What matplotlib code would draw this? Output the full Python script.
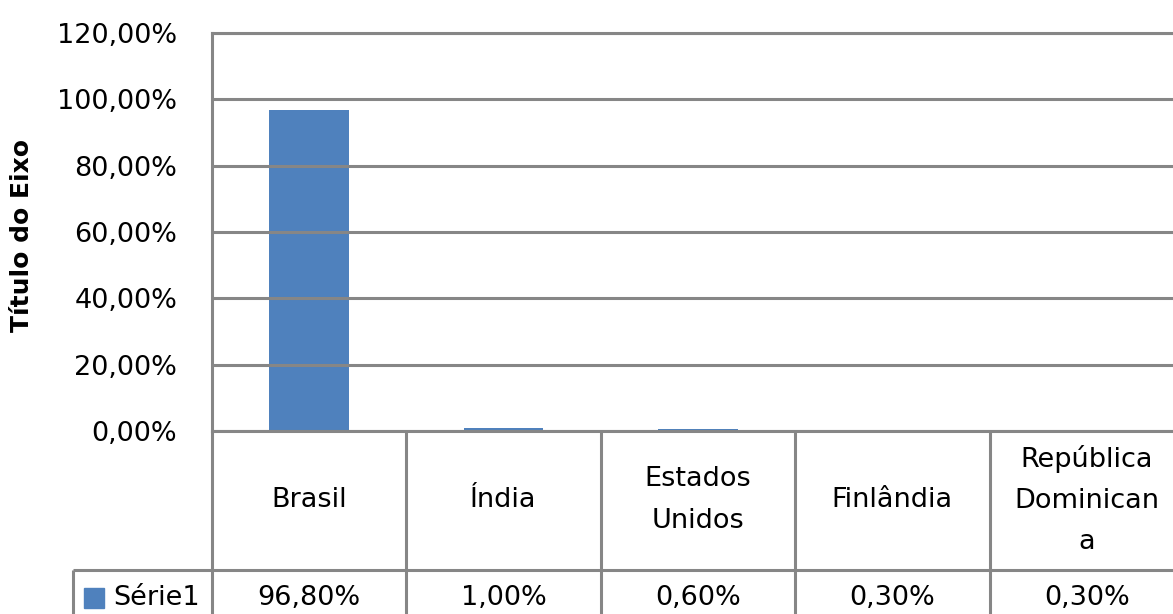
import matplotlib
matplotlib.use('Agg')
import matplotlib.pyplot as plt
import matplotlib.transforms as mtransforms
from matplotlib.patches import Rectangle
from matplotlib.ticker import FuncFormatter

# dados do gráfico
categorias = ['Brasil', 'Índia', 'Estados\nUnidos', 'Finlândia', 'República\nDominican\na']
valores = [96.8, 1.0, 0.6, 0.3, 0.3]
serie = 'Série1'
y_ticks = [0, 20, 40, 60, 80, 100, 120]

cor_barra = '#4F81BD'
cor_grade = '#868686'
lw = 2.2
fs = 19.5

W, H = 1173, 614
fig = plt.figure(figsize=(W / 100, H / 100), dpi=100)
plt.rcParams['font.family'] = ['DejaVu Sans']

# área do gráfico (px -> fração da figura)
left, right, top, bottom = 212, 1173, 33, 431
ax = fig.add_axes([left / W, 1 - bottom / H, (right - left) / W, (bottom - top) / H])

col_w = 194.4
ax.set_xlim(-0.5, -0.5 + (right - left) / col_w)
ax.set_ylim(0, 120)

x = list(range(len(categorias)))
ax.bar(x, valores, width=0.41, color=cor_barra, zorder=1)

ax.set_yticks(y_ticks)
ax.yaxis.set_major_formatter(FuncFormatter(lambda v, p: f'{v:.2f}%'.replace('.', ',')))
ax.tick_params(axis='y', length=0, pad=25, labelsize=fs)
ax.set_xticks([])
ax.grid(axis='y', color=cor_grade, lw=lw, zorder=2)
ax.set_axisbelow(False)
ax.spines['right'].set_visible(False)
for s in ['left', 'top', 'bottom']:
    ax.spines[s].set_color(cor_grade)
    ax.spines[s].set_linewidth(lw)

fig.text(22 / W, 1 - 236 / H, 'Título do Eixo', rotation=90, ha='center', va='center',
         fontsize=18, fontweight='bold')

# tabela de dados abaixo do eixo
trans = mtransforms.blended_transform_factory(ax.transData, fig.transFigure)
y_axis = 1 - bottom / H
y_sep = 1 - 570 / H
y_fim = -0.05
x_leg = -0.5 - (left - 73) / col_w

for i in range(len(categorias) + 1):
    ax.plot([i - 0.5, i - 0.5], [y_axis, y_fim], color=cor_grade, lw=lw,
            transform=trans, clip_on=False, solid_capstyle='butt')
ax.plot([x_leg, -0.5 + (right - left) / col_w], [y_sep, y_sep], color=cor_grade, lw=lw,
        transform=trans, clip_on=False, solid_capstyle='butt')
ax.plot([x_leg, x_leg], [y_sep, y_fim], color=cor_grade, lw=lw,
        transform=trans, clip_on=False, solid_capstyle='butt')

y_cab = 1 - 500 / H
y_val = 1 - 598 / H
for i, (cat, v) in enumerate(zip(categorias, valores)):
    ax.text(i, y_cab, cat, transform=trans, ha='center', va='center',
            fontsize=fs, linespacing=1.75, clip_on=False)
    ax.text(i, y_val, f'{v:.2f}%'.replace('.', ','), transform=trans, ha='center',
            va='center', fontsize=fs, clip_on=False)

# legenda da série na tabela
fig.patches.append(Rectangle((84 / W, 1 - 608 / H), 20 / W, 20 / H,
                             transform=fig.transFigure, color=cor_barra))
fig.text(113 / W, y_val, serie, ha='left', va='center', fontsize=fs)

fig.savefig('out.png', dpi=100)
